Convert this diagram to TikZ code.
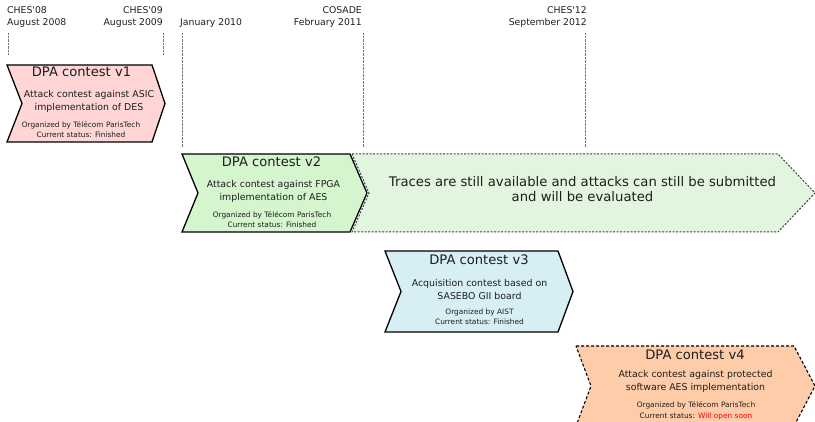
\documentclass[tikz,border=0pt]{standalone}
\usepackage{fontspec}
\setmainfont{DejaVu Sans}
\definecolor{txt}{RGB}{30,30,30}
\definecolor{pinkfill}{RGB}{255,213,213}
\definecolor{greenfill}{RGB}{213,245,207}
\definecolor{extfill}{RGB}{226,245,222}
\definecolor{bluefill}{RGB}{215,238,244}
\definecolor{orangefill}{RGB}{255,204,170}
\begin{document}
\begin{tikzpicture}[x=1pt,y=-1pt,
  hdr/.style={font=\fontsize{9.3}{11}\selectfont, text=txt, inner sep=0pt},
  ttl/.style={font=\fontsize{13.1}{15}\selectfont, text=txt, inner sep=0pt, anchor=base},
  dsc/.style={font=\fontsize{9.4}{11}\selectfont, text=txt, inner sep=0pt, anchor=base},
  sml/.style={font=\fontsize{7.4}{9}\selectfont, text=txt, inner sep=0pt, anchor=base},
  big/.style={font=\fontsize{13.2}{15}\selectfont, text=txt, inner sep=0pt, anchor=base},
  guide/.style={draw=black!55, line width=1pt, dash pattern=on 0.8pt off 0.6pt},
  solidbox/.style={draw=black, line width=1.3pt, line join=miter},
  dashbox/.style={draw=black, line width=1.1pt, dash pattern=on 3pt off 2pt},
  extbox/.style={draw=black!75, line width=1pt, dash pattern=on 2pt off 1.5pt}]
\useasboundingbox (0,0) rectangle (815,422);

% header labels
\node[hdr, anchor=base west] (h1a) at (7,14) {CHES\textquotesingle 08};
\node[hdr, anchor=base west] (h1b) at (7,26) {August 2008};
\node[hdr, anchor=base east] (h2a) at (163,14) {CHES\textquotesingle 09};
\node[hdr, anchor=base east] (h2b) at (163,26) {August 2009};
\node[hdr, anchor=base west] (h3b) at (180,26) {January 2010};
\node[hdr, anchor=base east] (h4a) at (362,14) {COSADE};
\node[hdr, anchor=base east] (h4b) at (362,26) {February 2011};
\node[hdr, anchor=base east] (h5a) at (587,14) {CHES\textquotesingle 12};
\node[hdr, anchor=base east] (h5b) at (587,26) {September 2012};

% guide lines
\coordinate (g1t) at (8,33);   \coordinate (g1b) at (8,55);
\coordinate (g2t) at (163,33); \coordinate (g2b) at (163,55);
\coordinate (g3t) at (182,33); \coordinate (g3b) at (182,147);
\coordinate (g4t) at (363,33); \coordinate (g4b) at (363,147);
\coordinate (g5t) at (585,33); \coordinate (g5b) at (585,147);
\draw[guide] (g1t) -- (g1b);
\draw[guide] (g2t) -- (g2b);
\draw[guide] (g3t) -- (g3b);
\draw[guide] (g4t) -- (g4b);
\draw[guide] (g5t) -- (g5b);

% DPA contest v1
\path[solidbox, fill=pinkfill] (7,65) -- (152,65) -- (165,103.5) -- (152,142) -- (7,142) -- (22,103.5) -- cycle;
\node[ttl] (v1t) at (81.5,77) {DPA contest v1};
\node[dsc] (v1d1) at (89,98) {Attack contest against ASIC};
\node[dsc] (v1d2) at (89,111) {implementation of DES};
\node[sml] (v1s1) at (81,128) {Organized by Télécom ParisTech};
\node[sml] (v1s2) at (81,138) {Current status: Finished};

% extension of v2
\path[extbox, fill=extfill] (352,154) -- (778,154) -- (815,193) -- (778,232) -- (352,232) -- (369,193) -- cycle;
\node[big] (ext1) at (582.5,187) {Traces are still available and attacks can still be submitted};
\node[big] (ext2) at (582.5,202) {and will be evaluated};

% DPA contest v2
\path[solidbox, fill=greenfill] (182,154) -- (350,154) -- (367,193) -- (350,232) -- (182,232) -- (198,193) -- cycle;
\node[ttl] (v2t) at (271.5,167) {DPA contest v2};
\node[dsc] (v2d1) at (273.5,188) {Attack contest against FPGA};
\node[dsc] (v2d2) at (273.5,201) {implementation of AES};
\node[sml] (v2s1) at (272,218) {Organized by Télécom ParisTech};
\node[sml] (v2s2) at (272,228) {Current status: Finished};

% DPA contest v3
\path[solidbox, fill=bluefill] (385,251) -- (558,251) -- (573,291.5) -- (558,332) -- (385,332) -- (401,291.5) -- cycle;
\node[ttl] (v3t) at (479,265) {DPA contest v3};
\node[dsc] (v3d1) at (479.5,287) {Acquisition contest based on};
\node[dsc] (v3d2) at (479.5,300) {SASEBO GII board};
\node[sml] (v3s1) at (479.5,315) {Organized by AIST};
\node[sml] (v3s2) at (479.5,325) {Current status: Finished};

% DPA contest v4
\path[dashbox, fill=orangefill] (576,346) -- (794,346) -- (815,386) -- (794,426) -- (576,426) -- (591,386) -- cycle;
\node[ttl] (v4t) at (695,360) {DPA contest v4};
\node[dsc] (v4d1) at (695.5,378) {Attack contest against protected};
\node[dsc] (v4d2) at (695.5,391) {software AES implementation};
\node[sml] (v4s1) at (696,408) {Organized by Télécom ParisTech};
\node[sml] (v4s2) at (696,418) {Current status: \textcolor{red}{Will open soon}};
\end{tikzpicture}
\end{document}
